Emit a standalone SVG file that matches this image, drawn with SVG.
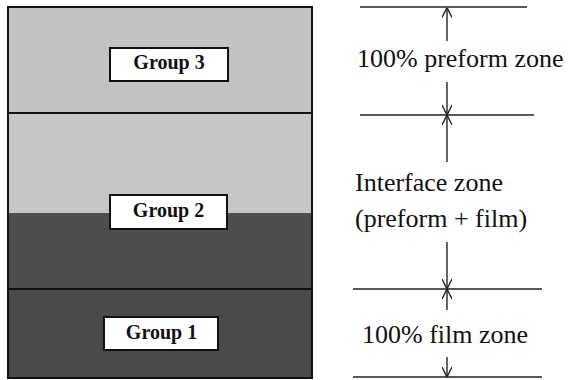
<svg xmlns="http://www.w3.org/2000/svg" width="571" height="380" viewBox="0 0 571 380">
<style>
.zone-label{font-family:"Liberation Serif","Times New Roman",serif;font-size:26px;fill:#111}
.grp-label{font-family:"Liberation Serif","Times New Roman",serif;font-size:20px;font-weight:bold;fill:#111;text-anchor:middle}
.box{fill:#fff;stroke:#111;stroke-width:2}
.ref{stroke:#222;stroke-width:1.3;fill:none}
.arr{stroke:#333;stroke-width:1.5;fill:none}
</style>
<defs>
<marker id="ah" viewBox="0 0 10 10" refX="10" refY="5" markerWidth="10" markerHeight="10" markerUnits="userSpaceOnUse" orient="auto">
<path d="M0,0 L10,5 L0,10" fill="none" stroke="#222" stroke-width="1.4"/>
</marker>
</defs>
<rect width="571" height="380" fill="#fff"/>
<g id="layers">
<rect x="8" y="7" width="304" height="106" fill="#c2c2c2"/>
<rect x="8" y="113" width="304" height="100" fill="#c6c6c6"/>
<rect x="8" y="213" width="304" height="76" fill="#4e4e4e"/>
<rect x="8" y="289" width="304" height="89" fill="#4a4a4a"/>
<line x1="8" y1="113" x2="312" y2="113" stroke="#111" stroke-width="2"/>
<line x1="8" y1="289" x2="312" y2="289" stroke="#111" stroke-width="2"/>
<rect x="8" y="7" width="304" height="371" fill="none" stroke="#111" stroke-width="2"/>
</g>
<g id="group3">
<rect class="box" x="110" y="48" width="118" height="33"/>
<text class="grp-label" x="169" y="69">Group 3</text>
</g>
<g id="group2">
<rect class="box" x="110" y="195" width="117" height="34"/>
<text class="grp-label" x="168.5" y="217">Group 2</text>
</g>
<g id="group1">
<rect class="box" x="104" y="317" width="114" height="33"/>
<text class="grp-label" x="161.5" y="339">Group 1</text>
</g>
<g id="reference-lines">
<line class="ref" x1="360" y1="7" x2="527" y2="7"/>
<line class="ref" x1="360" y1="115" x2="534" y2="115"/>
<line class="ref" x1="353" y1="289" x2="542" y2="289"/>
<line class="ref" x1="353" y1="377" x2="542" y2="377"/>
</g>
<g id="connectors">
<line class="arr" x1="447" y1="41" x2="447" y2="7.5" marker-end="url(#ah)"/>
<line class="arr" x1="447" y1="82" x2="447" y2="115" marker-end="url(#ah)"/>
<line class="arr" x1="447" y1="162" x2="447" y2="115" marker-end="url(#ah)"/>
<line class="arr" x1="447" y1="242" x2="447" y2="289" marker-end="url(#ah)"/>
<line class="arr" x1="447" y1="310" x2="447" y2="289" marker-end="url(#ah)"/>
<line class="arr" x1="447" y1="357" x2="447" y2="377" marker-end="url(#ah)"/>
</g>
<g id="zone-labels">
<text class="zone-label" x="357" y="67">100% preform zone</text>
<text class="zone-label" x="355" y="191">Interface zone</text>
<text class="zone-label" x="355" y="227">(preform + film)</text>
<text class="zone-label" x="362" y="343">100% film zone</text>
</g>
</svg>
